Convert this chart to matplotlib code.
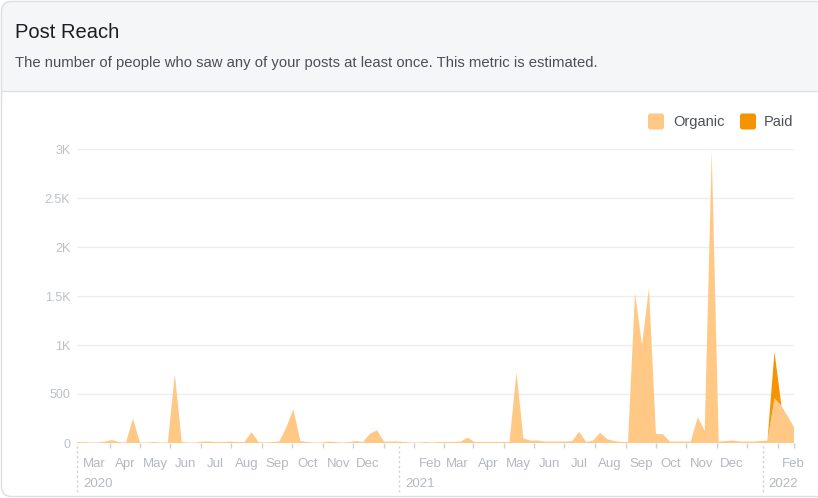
import matplotlib
matplotlib.use("Agg")
import matplotlib.pyplot as plt
import matplotlib.transforms as mtrans
import matplotlib.dates as mdates
from matplotlib.patches import FancyBboxPatch, Rectangle
from matplotlib.lines import Line2D
import pandas as pd

plt.rcParams['font.family'] = ['Liberation Sans', 'DejaVu Sans']

# weekly points
weeks = pd.date_range('2020-02-13', periods=104, freq='7D')
organic = [10, 8, 5, 5, 15, 30, 10, 5, 250, 5,
           5, 10, 5, 5, 700, 10, 5, 5, 15, 15,
           10, 10, 15, 10, 10, 110, 10, 5, 10, 15,
           160, 345, 20, 10, 5, 5, 15, 10, 5, 10,
           20, 10, 95, 130, 15, 15, 15, 10, 5, 5,
           10, 5, 10, 10, 10, 15, 55, 10, 10, 10,
           10, 10, 10, 720, 45, 25, 25, 15, 15, 15,
           15, 20, 115, 10, 25, 105, 40, 20, 10, 10,
           1530, 1000, 1580, 92, 90, 15, 15, 15, 15, 262,
           125, 2980, 15, 20, 25, 15, 15, 15, 20, 25,
           456, 380, 260, 140]
paid = [0] * 100 + [475, 0, 0, 0]

ytick_vals = [0, 500, 1000, 1500, 2000, 2500, 3000]
ytick_labels = ['0', '500', '1K', '1.5K', '2K', '2.5K', '3K']
year_starts = ['2020-02-13', '2021-01-01', '2022-01-01']
year_labels = ['2020', '2021', '2022']

W, H = 818, 498
c_org = '#ffc885'
c_paid = '#f59300'


def fx(px):
    return px / W


def fy(py):
    return 1 - py / H


fig = plt.figure(figsize=(W / 100, H / 100), dpi=100)
fig.patch.set_facecolor('white')

# card + grey header (kept below the axes)
card = FancyBboxPatch((fx(1.5), fy(496.5)), fx(840), 495 / H,
                      boxstyle='round,pad=0,rounding_size=0.012',
                      transform=fig.transFigure, facecolor='#f5f6f7',
                      edgecolor='#dddfe2', lw=1, mutation_aspect=W / H,
                      zorder=-10)
fig.patches.append(card)
body = FancyBboxPatch((fx(2.5), fy(495.5)), fx(840), 404 / H,
                      boxstyle='round,pad=0,rounding_size=0.011',
                      transform=fig.transFigure, facecolor='white',
                      edgecolor='none', mutation_aspect=W / H, zorder=-9)
fig.patches.append(body)
fig.patches.append(Rectangle((fx(2.5), fy(130)), fx(840), 39 / H,
                             transform=fig.transFigure, facecolor='white',
                             edgecolor='none', zorder=-9))
fig.lines.append(Line2D([fx(1.5), 1], [fy(90.5), fy(90.5)],
                        transform=fig.transFigure, color='#dddfe2', lw=1,
                        zorder=-8))

fig.text(fx(15), fy(32), 'Post Reach', fontsize=14.5, color='#1c1e21',
         va='center', ha='left')
fig.text(fx(15), fy(63.5), 'The number of people who saw any of your posts at least once. '
         'This metric is estimated.', fontsize=10.75, color='#4b4f56',
         va='center', ha='left')

# legend
for sx, tx, col, lab in [(648, 673, c_org, 'Organic'), (740, 764, c_paid, 'Paid')]:
    sw = FancyBboxPatch((fx(sx), fy(129.5)), fx(16), 16 / H,
                        boxstyle='round,pad=0,rounding_size=0.003',
                        transform=fig.transFigure, facecolor=col,
                        edgecolor='none', mutation_aspect=W / H)
    fig.patches.append(sw)
    fig.text(fx(tx), fy(121.5), lab, fontsize=10.5, color='#4b4f56',
             va='center', ha='left')

# chart
ax = fig.add_axes([fx(77.2), fy(443), (794.4 - 77.2) / W, (443 - 149) / H])
ax.set_zorder(5)
ax.set_facecolor('none')
ax.stackplot(weeks, organic, paid, colors=[c_org, c_paid], lw=0, zorder=3)
ax.set_xlim(weeks[0], pd.Timestamp('2022-02-02'))
ax.set_ylim(0, 3000)

for s in ax.spines.values():
    s.set_visible(False)

ax.set_yticks(ytick_vals)
ax.set_yticklabels(ytick_labels)
ax.yaxis.grid(True, color='#eceef0', lw=1)
ax.set_axisbelow(True)
ax.tick_params(axis='y', length=0, pad=5, labelsize=9, labelcolor='#bcc0c6')

month_starts = pd.date_range('2020-03-01', '2022-02-01', freq='MS')
label_pos = [d for d in month_starts if d.month != 1]
ax.set_xticks(label_pos)
ax.set_xticklabels([d.strftime('%b') for d in label_pos])
ax.tick_params(axis='x', which='major', length=0, pad=10.5,
               labelsize=9.5, labelcolor='#b4b9c0')
mids = [month_starts[i] + (month_starts[i + 1] - month_starts[i]) / 2
        for i in range(len(month_starts) - 1)]
mids.append(pd.Timestamp('2022-02-02'))
ax.set_xticks(mids, minor=True)
ax.tick_params(axis='x', which='minor', length=3.8, width=1, color='#ccd0d5')

trans = mtrans.blended_transform_factory(ax.transData, ax.transAxes)
for ys, yl in zip(year_starts, year_labels):
    d = mdates.date2num(pd.Timestamp(ys))
    ax.plot([d, d], [-0.01, -49 / 294], transform=trans, clip_on=False,
            color='#ccd0d5', lw=1, ls=(0, (1.5, 2)))
    ax.annotate(yl, xy=(d, 0), xycoords=trans, xytext=(4.5, -29.5),
                textcoords='offset points', ha='left', va='center',
                fontsize=9.5, color='#b4b9c0')

fig.savefig('out.png', dpi=100)
